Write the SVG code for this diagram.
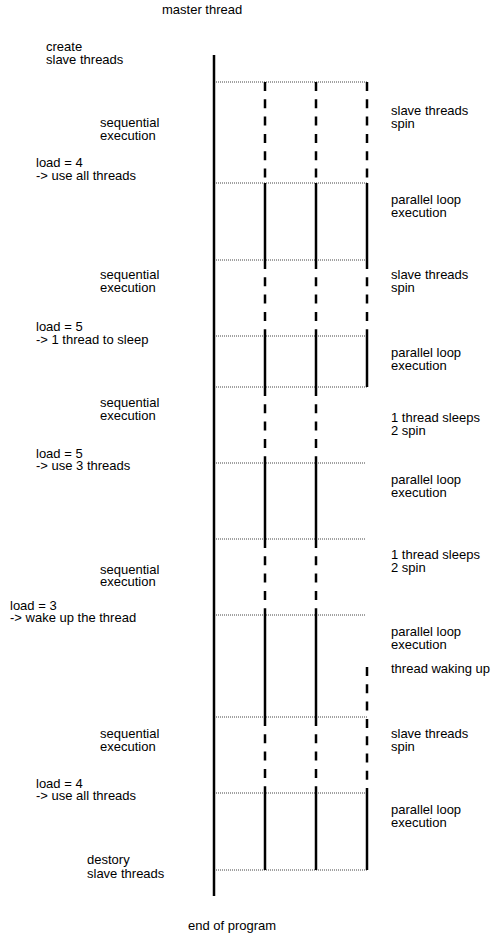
<svg xmlns="http://www.w3.org/2000/svg" width="493" height="935" viewBox="0 0 493 935">
<style>
text{font-family:"Liberation Sans",Arial,sans-serif;font-size:13px;fill:#000}
.run{stroke:#000;stroke-width:2.5;fill:none}
.spin{stroke:#000;stroke-width:2.5;fill:none;stroke-dasharray:9 8.3}
.bound{stroke:#444;stroke-width:1;stroke-dasharray:1 1;fill:none}
</style>
<rect width="493" height="935" fill="#fff"/>
<g id="connectors">
<g id="phase-boundaries">
<line class="bound" x1="216" y1="82" x2="367" y2="82"/>
<line class="bound" x1="216" y1="183" x2="367" y2="183"/>
<line class="bound" x1="216" y1="260" x2="367" y2="260"/>
<line class="bound" x1="216" y1="336" x2="367" y2="336"/>
<line class="bound" x1="216" y1="387" x2="367" y2="387"/>
<line class="bound" x1="216" y1="463" x2="366" y2="463"/>
<line class="bound" x1="216" y1="539" x2="366" y2="539"/>
<line class="bound" x1="216" y1="615" x2="366" y2="615"/>
<line class="bound" x1="216" y1="717" x2="367" y2="717"/>
<line class="bound" x1="216" y1="793" x2="367" y2="793"/>
<line class="bound" x1="216" y1="870" x2="367" y2="870"/>
</g>
</g>
<g id="master-thread">
<line class="run" x1="214" y1="55" x2="214" y2="896"/>
</g>
<g id="slave-thread-1">
<line class="spin" x1="265" y1="82" x2="265" y2="183"/>
<line class="run" x1="265" y1="183" x2="265" y2="260"/>
<line class="spin" x1="265" y1="260" x2="265" y2="336"/>
<line class="run" x1="265" y1="336" x2="265" y2="387"/>
<line class="spin" x1="265" y1="387" x2="265" y2="463"/>
<line class="run" x1="265" y1="463" x2="265" y2="539"/>
<line class="spin" x1="265" y1="539" x2="265" y2="615"/>
<line class="run" x1="265" y1="615" x2="265" y2="717"/>
<line class="spin" x1="265" y1="717" x2="265" y2="793"/>
<line class="run" x1="265" y1="793" x2="265" y2="870"/>
</g>
<g id="slave-thread-2">
<line class="spin" x1="316" y1="82" x2="316" y2="183"/>
<line class="run" x1="316" y1="183" x2="316" y2="260"/>
<line class="spin" x1="316" y1="260" x2="316" y2="336"/>
<line class="run" x1="316" y1="336" x2="316" y2="387"/>
<line class="spin" x1="316" y1="387" x2="316" y2="463"/>
<line class="run" x1="316" y1="463" x2="316" y2="539"/>
<line class="spin" x1="316" y1="539" x2="316" y2="615"/>
<line class="run" x1="316" y1="615" x2="316" y2="717"/>
<line class="spin" x1="316" y1="717" x2="316" y2="793"/>
<line class="run" x1="316" y1="793" x2="316" y2="870"/>
</g>
<g id="slave-thread-3">
<line class="spin" x1="367" y1="82" x2="367" y2="183"/>
<line class="run" x1="367" y1="183" x2="367" y2="260"/>
<line class="spin" x1="367" y1="260" x2="367" y2="336"/>
<line class="run" x1="367" y1="336" x2="367" y2="387"/>
<line class="spin" x1="367" y1="667" x2="367" y2="793"/>
<line class="run" x1="367" y1="793" x2="367" y2="870"/>
</g>
<g id="label-master"><text x="162" y="14">master thread</text></g>
<g id="label-create"><text x="46" y="51">create</text><text x="46" y="64">slave threads</text></g>
<g id="label-seq-1"><text x="100" y="127">sequential</text><text x="100" y="140">execution</text></g>
<g id="label-load-1"><text x="36" y="167">load = 4</text><text x="36" y="179.5">-&gt; use all threads</text></g>
<g id="label-spin-1"><text x="391" y="115">slave threads</text><text x="391" y="128">spin</text></g>
<g id="label-par-1"><text x="391" y="204">parallel loop</text><text x="391" y="217">execution</text></g>
<g id="label-seq-2"><text x="100" y="279">sequential</text><text x="100" y="292">execution</text></g>
<g id="label-spin-2"><text x="391" y="279">slave threads</text><text x="391" y="292">spin</text></g>
<g id="label-load-2"><text x="36" y="331">load = 5</text><text x="36" y="343.5">-&gt; 1 thread to sleep</text></g>
<g id="label-par-2"><text x="391" y="357">parallel loop</text><text x="391" y="369.5">execution</text></g>
<g id="label-seq-3"><text x="100" y="407">sequential</text><text x="100" y="420">execution</text></g>
<g id="label-sleep-1"><text x="391" y="422">1 thread sleeps</text><text x="391" y="434.5">2 spin</text></g>
<g id="label-load-3"><text x="36" y="457.5">load = 5</text><text x="36" y="470">-&gt; use 3 threads</text></g>
<g id="label-par-3"><text x="391" y="484">parallel loop</text><text x="391" y="497">execution</text></g>
<g id="label-sleep-2"><text x="391" y="559">1 thread sleeps</text><text x="391" y="572">2 spin</text></g>
<g id="label-seq-4"><text x="100" y="573.5">sequential</text><text x="100" y="586">execution</text></g>
<g id="label-load-4"><text x="10" y="609.5">load = 3</text><text x="10" y="622">-&gt; wake up the thread</text></g>
<g id="label-par-4"><text x="391" y="636">parallel loop</text><text x="391" y="648.5">execution</text></g>
<g id="label-waking"><text x="391" y="672.5">thread waking up</text></g>
<g id="label-seq-5"><text x="100" y="738">sequential</text><text x="100" y="751">execution</text></g>
<g id="label-spin-3"><text x="391" y="738">slave threads</text><text x="391" y="751">spin</text></g>
<g id="label-load-5"><text x="36" y="787.5">load = 4</text><text x="36" y="800">-&gt; use all threads</text></g>
<g id="label-par-5"><text x="391" y="814">parallel loop</text><text x="391" y="827">execution</text></g>
<g id="label-destroy"><text x="87" y="864">destory</text><text x="87" y="877.5">slave threads</text></g>
<g id="label-end"><text x="188" y="930">end of program</text></g>
</svg>
